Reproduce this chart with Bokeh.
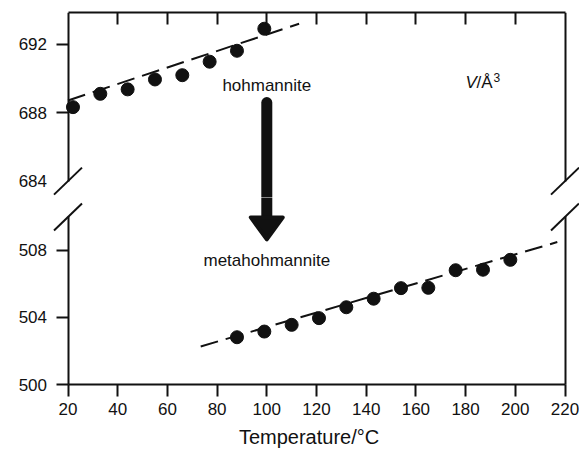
from bokeh.plotting import figure
from bokeh.layouts import column
from bokeh.models import LinearAxis, FixedTicker, Range1d
from bokeh.core.properties import value
from bokeh.embed import file_html
from bokeh.resources import INLINE

# Unit-cell volume of hohmannite (room temperature up to the transition)
hoh_temp = [22, 33, 44, 55, 66, 77, 88, 99]
hoh_vol = [688.33, 689.11, 689.37, 689.95, 690.20, 690.99, 691.63, 692.92]
hoh_fit_temp = [20, 113]
hoh_fit_vol = [688.72, 693.21]

# Unit-cell volume of metahohmannite after dehydration
meta_temp = [88, 99, 110, 121, 132, 143, 154, 165, 176, 187, 198]
meta_vol = [502.82, 503.16, 503.56, 503.96, 504.61, 505.12, 505.75, 505.77,
            506.82, 506.85, 507.44]
meta_fit_temp = [73.4, 216.9]
meta_fit_vol = [502.27, 508.50]

temp_ticks = [20, 40, 60, 80, 100, 120, 140, 160, 180, 200, 220]
upper_ticks = [684, 688, 692]
lower_ticks = [500, 504, 508]

# Temperature span of the axes and the two panels of the broken volume axis
T_AXIS = (20, 220)
UPPER_SPAN = (683.04, 693.87)
LOWER_SPAN = (500.0, 511.16)
UPPER_BREAK = 684.0
LOWER_BREAK = 510.0

# Phase-transition arrow
ARROW_T = 100
ARROW_TOP = 688.6
ARROW_TIP = 508.66

# Page geometry (px); the plot frames fill their canvases so that the
# axes, their labels and the break marks all sit inside them
W = 579
AXIS_LEFT = 67.5
AXIS_RIGHT = 564.5
TOP = 12
BOTTOM = 65
UPPER_H, LOWER_H = 197, 252

FONT = "Liberation Sans"
INK = "#111111"

x_scale = (AXIS_RIGHT - AXIS_LEFT) / (T_AXIS[1] - T_AXIS[0])
X_RANGE = (T_AXIS[0] - AXIS_LEFT / x_scale, T_AXIS[1] + (W - AXIS_RIGHT) / x_scale)
upper_scale = (UPPER_H - TOP) / (UPPER_SPAN[1] - UPPER_SPAN[0])
lower_scale = (LOWER_H - BOTTOM) / (LOWER_SPAN[1] - LOWER_SPAN[0])
LOWER_RANGE = (LOWER_SPAN[0] - BOTTOM / lower_scale, LOWER_SPAN[1])


def style_axis(ax, labels=True):
    ax.axis_line_width = 2
    ax.axis_line_color = INK
    ax.major_tick_line_width = 2
    ax.major_tick_line_color = INK
    ax.minor_tick_line_color = None
    ax.major_tick_in = 0
    ax.major_tick_out = 12
    if labels:
        ax.major_label_text_font = FONT
        ax.major_label_text_font_size = "17px"
        ax.major_label_text_color = INK
    else:
        ax.major_label_text_font_size = "0px"
        ax.major_label_text_color = None
        ax.major_label_standoff = 0


def right_line(bounds):
    ax = LinearAxis(bounds=bounds, ticker=FixedTicker(ticks=[]), fixed_location=T_AXIS[1])
    style_axis(ax, labels=False)
    ax.major_tick_out = 0
    return ax


def break_marks(p, y, yscale):
    dx = 14 / x_scale
    dy = 13.5 / yscale
    xs = [[x - dx, x + dx] for x in T_AXIS]
    ys = [[y - dy, y + dy] for _ in T_AXIS]
    p.multi_line(xs, ys, line_width=2, line_color=INK)


def new_panel(height, y_range, top, x_loc):
    p = figure(width=W, height=height, x_range=Range1d(*X_RANGE), y_range=Range1d(*y_range),
               x_axis_location=x_loc, output_backend="svg", toolbar_location=None,
               min_border_left=0, min_border_right=0,
               min_border_top=top, min_border_bottom=0)
    p.outline_line_color = None
    p.background_fill_color = "white"
    p.border_fill_color = "white"
    p.xgrid.visible = False
    p.ygrid.visible = False
    return p


def label(p, x, y, text, size="17px", **kw):
    p.text(x=[x], y=[y], text=[text], text_font=value(FONT), text_font_size=size,
           text_baseline="middle", text_color=INK, **kw)


# ---- upper panel: hohmannite ----
up = new_panel(UPPER_H, UPPER_SPAN, TOP, "above")
top_ax = up.xaxis[0]
style_axis(top_ax, labels=False)
top_ax.bounds = T_AXIS
top_ax.ticker = FixedTicker(ticks=temp_ticks[1:-1])
top_ax.major_tick_in = 12
top_ax.major_tick_out = 0

# the lowest value is labelled without a tick: labels come from the major
# ticks, the visible tick marks are drawn as minor ticks
ly = up.yaxis[0]
style_axis(ly)
ly.fixed_location = T_AXIS[0]
ly.bounds = (UPPER_BREAK, UPPER_SPAN[1])
ly.ticker = FixedTicker(ticks=upper_ticks, minor_ticks=upper_ticks[1:])
ly.major_tick_line_color = None
ly.minor_tick_line_color = INK
ly.minor_tick_line_width = 2
ly.minor_tick_in = 0
ly.minor_tick_out = 12
ly.major_label_standoff = 9
up.add_layout(right_line((UPPER_BREAK, UPPER_SPAN[1])), "right")

break_marks(up, UPPER_BREAK, upper_scale)

up.line(hoh_fit_temp, hoh_fit_vol, line_width=2, line_dash="18 8", color=INK)
up.scatter(hoh_temp, hoh_vol, size=13, color=INK)
up.segment(x0=[ARROW_T], y0=[ARROW_TOP], x1=[ARROW_T], y1=[UPPER_SPAN[0] - 1],
           line_width=11, line_cap="round", color=INK)
label(up, ARROW_T, 689.59, "hohmannite", text_align="center")

# V/Å³ with italic V and a raised exponent
label(up, 180, 689.77, "V", text_font_style="italic", text_align="left")
label(up, 180, 689.77, "/Å", x_offset=11, text_align="left")
label(up, 180, 689.77, "3", size="12px", x_offset=28, y_offset=-5, text_align="left")

# ---- lower panel: metahohmannite ----
lo = new_panel(LOWER_H, LOWER_RANGE, 0, "below")
bx = lo.xaxis[0]
style_axis(bx)
bx.fixed_location = LOWER_SPAN[0]
bx.bounds = T_AXIS
bx.ticker = FixedTicker(ticks=temp_ticks)
bx.major_label_standoff = 6

ly2 = lo.yaxis[0]
style_axis(ly2)
ly2.fixed_location = T_AXIS[0]
ly2.bounds = (LOWER_SPAN[0], LOWER_BREAK)
ly2.ticker = FixedTicker(ticks=lower_ticks)
ly2.major_label_standoff = 9
lo.add_layout(right_line((LOWER_SPAN[0], LOWER_BREAK)), "right")

break_marks(lo, LOWER_BREAK, lower_scale)

# temperature axis title, centred under the tick labels
label(lo, 117, LOWER_SPAN[0] - 52 / lower_scale, "Temperature/°C", size="20px",
      text_align="center")

lo.line(meta_fit_temp, meta_fit_vol, line_width=2, line_dash="18 8", color=INK)
lo.scatter(meta_temp, meta_vol, size=13, color=INK)

head_half = 16 / x_scale
head_len = 22 / lower_scale
lo.segment(x0=[ARROW_T], y0=[LOWER_SPAN[1] + 1], x1=[ARROW_T], y1=[ARROW_TIP + head_len / 2],
           line_width=11, color=INK)
lo.patch(x=[ARROW_T - head_half, ARROW_T + head_half, ARROW_T],
         y=[ARROW_TIP + head_len, ARROW_TIP + head_len, ARROW_TIP],
         fill_color=INK, line_color=INK, line_width=4, line_join="round")
label(lo, ARROW_T, 507.39, "metahohmannite", text_align="center")

layout = column(up, lo, spacing=0)
open("out.html", "w").write(file_html(layout, INLINE))
